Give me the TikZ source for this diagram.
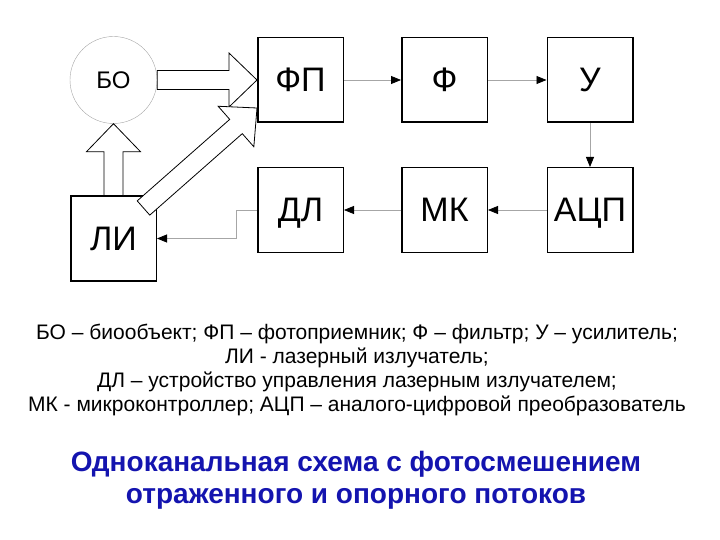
\documentclass[tikz,border=0pt]{standalone}
\usepackage{fontspec}
\setmainfont{Liberation Sans}
\usetikzlibrary{arrows.meta, calc, positioning}
\definecolor{titleblue}{RGB}{20,20,175}

%% hollow "beam" arrow from #1 (tail) to #2 (tip)
\newcommand{\fatarrow}[2]{%
  \coordinate (fa-base) at ($(#2)!28pt!(#1)$);
  \draw[fat] ($(#1)!9.5pt!90:(#2)$) -- ($(fa-base)!9.5pt!90:(#2)$)
    -- ($(fa-base)!27pt!90:(#2)$) -- (#2)
    -- ($(fa-base)!27pt!-90:(#2)$) -- ($(fa-base)!9.5pt!-90:(#2)$)
    -- ($(#1)!9.5pt!-90:(#2)$) -- cycle;}

\begin{document}
\begin{tikzpicture}[
  x=1pt, y=-1pt,
  box/.style={draw, line width=1.5pt, minimum width=85.5pt, minimum height=84.5pt,
              inner sep=0pt, text height=24pt, text depth=0pt,
              font=\fontsize{34}{34}\selectfont},
  bobj/.style={circle, draw=gray!70, thin, minimum size=87pt, inner sep=0pt,
               text height=17pt, text depth=0pt,
               font=\fontsize{24}{24}\selectfont},
  fat/.style={draw, fill=white, line width=0.8pt, line join=miter},
  arr/.style={draw=gray!70, line width=0.8pt,
              -{Triangle[length=10pt, width=8pt, black]}},
  legend/.style={align=center, font=\fontsize{21}{24}\selectfont},
  heading/.style={align=center, text=titleblue,
                  font=\bfseries\fontsize{28}{32}\selectfont},
]
  \useasboundingbox (0,0) rectangle (720,540);

  %% ── Object and laser ──
  \node[bobj] (bo) at (113.5, 80) {БО};
  \node[box]  (li) at (113.5, 238.5) {ЛИ};

  %% ── Top row: signal chain ──
  \node[box] (fp) at (300.5, 80) {ФП};
  \node[box] (f)  at (444.5, 80) {Ф};
  \node[box] (u)  at (590, 80) {У};

  %% ── Bottom row: control chain ──
  \node[box] (dl)  at (300.5, 210) {ДЛ};
  \node[box] (mk)  at (444.5, 210) {МК};
  \node[box] (adc) at (590, 210) {АЦП};

  %% ══════════════════════════════════════
  %% ═══ Light beams (hollow arrows) ═══
  \coordinate (li-beam) at ($(li.north east)+(-13.5,12.5)$);
  \coordinate (fp-ref)  at ($(fp.south west)+(0,-15)$);
  \fatarrow{li.north}{bo.south}
  \fatarrow{bo.east}{fp.west}
  \fatarrow{li-beam}{fp-ref}

  %% ═══ Signal arrows ═══
  \draw[arr] (fp) -- (f);
  \draw[arr] (f) -- (u);
  \draw[arr] (u) -- (adc);
  \draw[arr] (adc) -- (mk);
  \draw[arr] (mk) -- (dl);
  \draw[arr] (dl.west) -- ++(-21,0) |- (li.east);

  %% ═══ Legend and title ═══
  \node[legend] (key) at (357, 369.5)
    {БО – биообъект; ФП – фотоприемник; Ф – фильтр; У – усилитель;\\
     ЛИ - лазерный излучатель;\\
     ДЛ – устройство управления лазерным излучателем;\\
     МК - микроконтроллер; АЦП – аналого-цифровой преобразователь};
  \node[heading] (title) at (356, 480)
    {Одноканальная схема с фотосмешением\\отраженного и опорного потоков};
\end{tikzpicture}
\end{document}
